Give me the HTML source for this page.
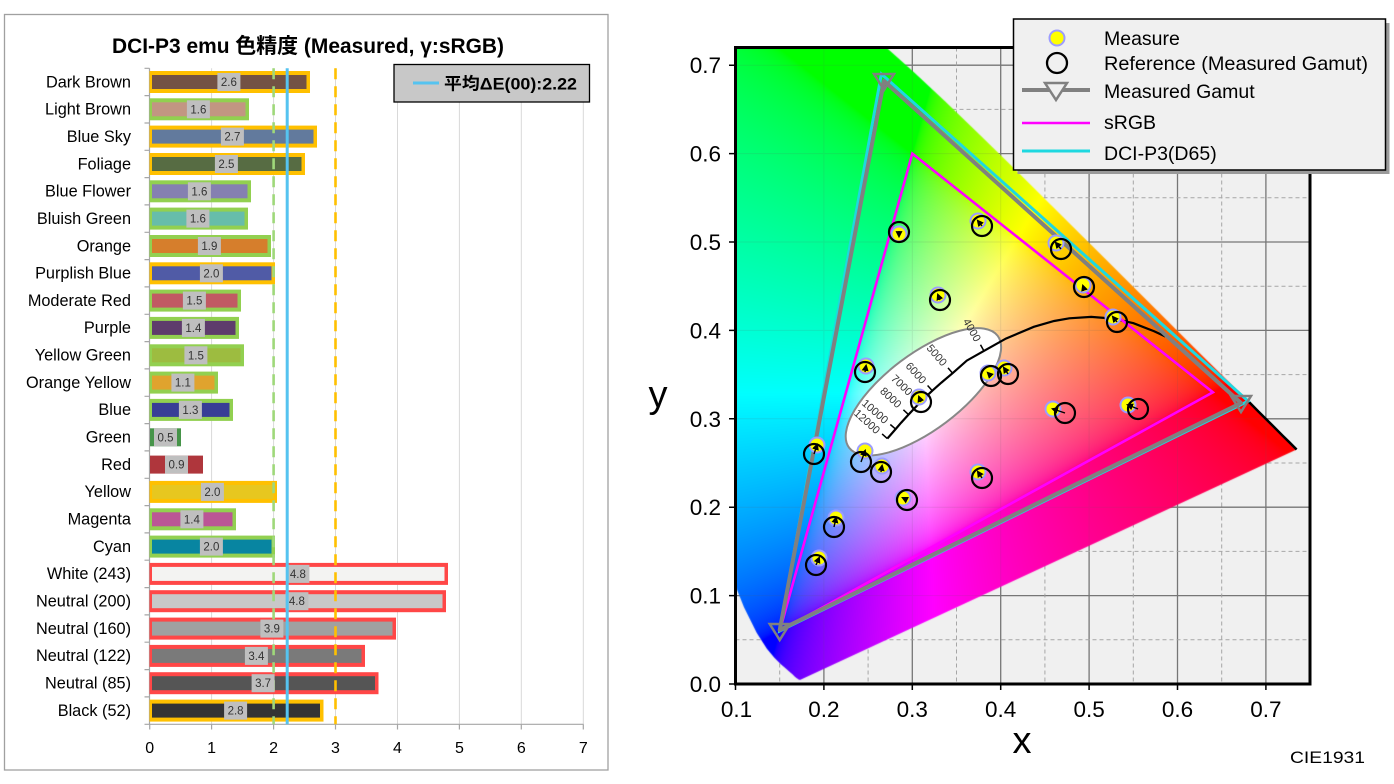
<!DOCTYPE html>
<html><head><meta charset="utf-8">
<style>
body{margin:0;width:1394px;height:784px;overflow:hidden;background:#fff;position:relative;font-family:"Liberation Sans","Noto Sans CJK JP",sans-serif}
svg{position:absolute;left:0;top:0}
#fb{position:absolute;left:736px;top:48px;width:574px;height:636px;overflow:hidden;
background:radial-gradient(circle at 187.5px 345.2px,rgba(255,255,255,1) 0px,rgba(255,255,255,.6) 40px,rgba(255,255,255,0) 150px),
conic-gradient(from 0deg at 187.5px 345.2px,#7cff00 0deg,#f0ff00 34deg,#ff9a00 67deg,#ff2000 91deg,#ff0050 125deg,#ff00c8 154deg,#8000ff 193deg,#2a00ff 210deg,#0060ff 235deg,#00fff0 275deg,#00ff80 310deg,#20ff20 336deg,#7cff00 360deg);
clip-path:polygon(64.9px 631.6px,60.3px 629.9px,49.4px 620.4px,38.4px 609.7px,20.8px 584.9px,8px 559.3px,-8.2px 518.7px,-48.8px 375.2px,-81.7px 160.1px,-76.7px -27.2px,-23.3px -101.1px,47.8px -76.4px,114px -30.8px,177.7px 24px,240.9px 83.9px,303.6px 145.6px,364.1px 205.8px,419.5px 261px,465.4px 306.7px,499.7px 340.7px,522.4px 363.5px,536.9px 377.9px,552.9px 393.8px,560.6px 401.5px)}
#cv{position:absolute;left:736px;top:48px}
</style></head><body>
<svg width="1394" height="784">
<rect x="735.5" y="47.5" width="574.5" height="636.5" fill="#f0f0f0"/>
<g stroke="#7a7a7a" stroke-width="1.3">
<line x1="823.9" y1="47.5" x2="823.9" y2="684"/><line x1="912.3" y1="47.5" x2="912.3" y2="684"/><line x1="1000.7" y1="47.5" x2="1000.7" y2="684"/><line x1="1089.1" y1="47.5" x2="1089.1" y2="684"/><line x1="1177.5" y1="47.5" x2="1177.5" y2="684"/><line x1="1265.9" y1="47.5" x2="1265.9" y2="684"/>
<line x1="735.5" y1="595.6" x2="1310" y2="595.6"/><line x1="735.5" y1="507.2" x2="1310" y2="507.2"/><line x1="735.5" y1="418.8" x2="1310" y2="418.8"/><line x1="735.5" y1="330.4" x2="1310" y2="330.4"/><line x1="735.5" y1="242" x2="1310" y2="242"/><line x1="735.5" y1="153.6" x2="1310" y2="153.6"/><line x1="735.5" y1="65.2" x2="1310" y2="65.2"/>
</g>
<g stroke="#a6a6a6" stroke-width="1" stroke-dasharray="4 3">
<line x1="779.7" y1="47.5" x2="779.7" y2="684"/><line x1="868.1" y1="47.5" x2="868.1" y2="684"/><line x1="956.5" y1="47.5" x2="956.5" y2="684"/><line x1="1044.9" y1="47.5" x2="1044.9" y2="684"/><line x1="1133.3" y1="47.5" x2="1133.3" y2="684"/><line x1="1221.7" y1="47.5" x2="1221.7" y2="684"/>
<line x1="735.5" y1="639.8" x2="1310" y2="639.8"/><line x1="735.5" y1="551.4" x2="1310" y2="551.4"/><line x1="735.5" y1="463" x2="1310" y2="463"/><line x1="735.5" y1="374.6" x2="1310" y2="374.6"/><line x1="735.5" y1="286.2" x2="1310" y2="286.2"/><line x1="735.5" y1="197.8" x2="1310" y2="197.8"/><line x1="735.5" y1="109.4" x2="1310" y2="109.4"/>
</g>
</svg>
<div id="fb"></div>
<canvas id="cv" width="574" height="636"></canvas>
<svg width="1394" height="784">
<defs>
<marker id="ah" markerUnits="userSpaceOnUse" markerWidth="7" markerHeight="7" viewBox="0 0 10 10" refX="7" refY="5" orient="auto"><path d="M0,0L10,5L0,10z" fill="#000"/></marker>
</defs>
<!-- faint grid over gamut -->
<g stroke="#606060" stroke-width="1" opacity="0.13">
<line x1="823.9" y1="47.5" x2="823.9" y2="684"/><line x1="912.3" y1="47.5" x2="912.3" y2="684"/><line x1="1000.7" y1="47.5" x2="1000.7" y2="684"/><line x1="1089.1" y1="47.5" x2="1089.1" y2="684"/><line x1="1177.5" y1="47.5" x2="1177.5" y2="684"/><line x1="1265.9" y1="47.5" x2="1265.9" y2="684"/>
<line x1="735.5" y1="595.6" x2="1310" y2="595.6"/><line x1="735.5" y1="507.2" x2="1310" y2="507.2"/><line x1="735.5" y1="418.8" x2="1310" y2="418.8"/><line x1="735.5" y1="330.4" x2="1310" y2="330.4"/><line x1="735.5" y1="242" x2="1310" y2="242"/><line x1="735.5" y1="153.6" x2="1310" y2="153.6"/><line x1="735.5" y1="65.2" x2="1310" y2="65.2"/>
</g>
<!-- ============ BAR CHART ============ -->
<rect x="4.5" y="14.5" width="603.5" height="755.5" fill="#fff" stroke="#a0a0a0" stroke-width="1.3"/>
<text x="112" y="53" font-size="21" font-weight="bold" textLength="392" lengthAdjust="spacingAndGlyphs" fill="#000">DCI-P3 emu 色精度 (Measured, γ:sRGB)</text>
<g stroke="#d9d9d9" stroke-width="1">
<line x1="211.6" y1="68.3" x2="211.6" y2="724.3"/><line x1="273.6" y1="68.3" x2="273.6" y2="724.3"/><line x1="335.5" y1="68.3" x2="335.5" y2="724.3"/><line x1="397.5" y1="68.3" x2="397.5" y2="724.3"/><line x1="459.4" y1="68.3" x2="459.4" y2="724.3"/><line x1="521.3" y1="68.3" x2="521.3" y2="724.3"/><line x1="583.3" y1="68.3" x2="583.3" y2="724.3"/>
</g>
<g stroke="#a6a6a6" stroke-width="1.2" fill="none">
<line x1="149.5" y1="724.3" x2="583.5" y2="724.3"/>
<line x1="149.5" y1="68.3" x2="149.5" y2="724.3"/>
<path d="M149.7 724.3V729.5M211.6 724.3V729.5M273.6 724.3V729.5M335.5 724.3V729.5M397.5 724.3V729.5M459.4 724.3V729.5M521.3 724.3V729.5M583.3 724.3V729.5"/>
<path d="M144.5 68.3H149.5M144.5 95.6H149.5M144.5 123H149.5M144.5 150.3H149.5M144.5 177.6H149.5M144.5 204.9H149.5M144.5 232.3H149.5M144.5 259.6H149.5M144.5 286.9H149.5M144.5 314.3H149.5M144.5 341.6H149.5M144.5 368.9H149.5M144.5 396.3H149.5M144.5 423.6H149.5M144.5 450.9H149.5M144.5 478.3H149.5M144.5 505.6H149.5M144.5 532.9H149.5M144.5 560.2H149.5M144.5 587.6H149.5M144.5 614.9H149.5M144.5 642.2H149.5M144.5 669.6H149.5M144.5 696.9H149.5M144.5 724.3H149.5"/>
</g>
<!-- bars -->
<g>
<rect x="149.5" y="71" width="160.5" height="22" fill="#ffc000"/><rect x="152" y="75" width="154.5" height="14" fill="#735244"/>
<rect x="149.5" y="98.3" width="99.5" height="22" fill="#92d050"/><rect x="152" y="102.3" width="93.5" height="14" fill="#c29682"/>
<rect x="149.5" y="125.6" width="167.5" height="22" fill="#ffc000"/><rect x="152" y="129.6" width="161.5" height="14" fill="#627a9d"/>
<rect x="149.5" y="153" width="155.5" height="22" fill="#ffc000"/><rect x="152" y="157" width="149.5" height="14" fill="#576c43"/>
<rect x="149.5" y="180.3" width="101.5" height="22" fill="#92d050"/><rect x="152" y="184.3" width="95.5" height="14" fill="#8580b1"/>
<rect x="149.5" y="207.6" width="98.5" height="22" fill="#92d050"/><rect x="152" y="211.6" width="92.5" height="14" fill="#67bdaa"/>
<rect x="149.5" y="235" width="121.5" height="22" fill="#92d050"/><rect x="152" y="239" width="115.5" height="14" fill="#d67e2c"/>
<rect x="149.5" y="262.3" width="125.5" height="22" fill="#ffc000"/><rect x="152" y="266.3" width="119.5" height="14" fill="#505ba6"/>
<rect x="149.5" y="289.6" width="91.5" height="22" fill="#92d050"/><rect x="152" y="293.6" width="85.5" height="14" fill="#c15a63"/>
<rect x="149.5" y="316.9" width="89.5" height="22" fill="#92d050"/><rect x="152" y="320.9" width="83.5" height="14" fill="#5e3c6c"/>
<rect x="149.5" y="344.3" width="94.5" height="22" fill="#92d050"/><rect x="152" y="348.3" width="88.5" height="14" fill="#9dbc40"/>
<rect x="149.5" y="371.6" width="68.5" height="22" fill="#92d050"/><rect x="152" y="375.6" width="62.5" height="14" fill="#e0a32e"/>
<rect x="149.5" y="398.9" width="83.5" height="22" fill="#92d050"/><rect x="152" y="402.9" width="77.5" height="14" fill="#383d96"/>
<rect x="150" y="428.3" width="31" height="18" fill="#469449"/>
<rect x="150" y="455.6" width="53" height="18" fill="#af363c"/>
<rect x="149.5" y="480.9" width="127.5" height="22" fill="#ffc000"/><rect x="152" y="484.9" width="121.5" height="14" fill="#e7c71f"/>
<rect x="149.5" y="508.3" width="86.5" height="22" fill="#92d050"/><rect x="152" y="512.3" width="80.5" height="14" fill="#bb5695"/>
<rect x="149.5" y="535.6" width="125.5" height="22" fill="#92d050"/><rect x="152" y="539.6" width="119.5" height="14" fill="#0885a1"/>
<rect x="149.5" y="562.9" width="298.5" height="22" fill="#ff4747"/><rect x="152" y="566.9" width="292.5" height="14" fill="#f3f3f2"/>
<rect x="149.5" y="590.2" width="296.5" height="22" fill="#ff4747"/><rect x="152" y="594.2" width="290.5" height="14" fill="#c8c8c8"/>
<rect x="149.5" y="617.6" width="246.5" height="22" fill="#ff4747"/><rect x="152" y="621.6" width="240.5" height="14" fill="#a0a0a0"/>
<rect x="149.5" y="644.9" width="215.5" height="22" fill="#ff4747"/><rect x="152" y="648.9" width="209.5" height="14" fill="#7a7a7a"/>
<rect x="149.5" y="672.2" width="229" height="22" fill="#ff4747"/><rect x="152" y="676.2" width="223" height="14" fill="#555555"/>
<rect x="149.5" y="699.6" width="174" height="22" fill="#ffc000"/><rect x="152" y="703.6" width="168" height="14" fill="#343434"/>
</g>
<!-- threshold lines -->
<line x1="273.6" y1="68.3" x2="273.6" y2="724.3" stroke="#9fd87a" stroke-width="2.6" stroke-dasharray="11 7"/>
<line x1="335.5" y1="68.3" x2="335.5" y2="724.3" stroke="#ffc000" stroke-width="2.6" stroke-dasharray="11 7"/>
<!-- value labels -->
<g fill="#bfbfbf">
<rect x="217.4" y="73" width="23" height="18"/><rect x="186.9" y="100.3" width="23" height="18"/><rect x="220.9" y="127.6" width="23" height="18"/><rect x="214.9" y="155" width="23" height="18"/><rect x="187.9" y="182.3" width="23" height="18"/><rect x="186.4" y="209.6" width="23" height="18"/><rect x="197.9" y="237" width="23" height="18"/><rect x="199.9" y="264.3" width="23" height="18"/><rect x="182.9" y="291.6" width="23" height="18"/><rect x="181.9" y="318.9" width="23" height="18"/><rect x="184.4" y="346.3" width="23" height="18"/><rect x="171.4" y="373.6" width="23" height="18"/><rect x="178.9" y="400.9" width="23" height="18"/><rect x="154" y="428.3" width="23" height="18"/><rect x="165" y="455.6" width="23" height="18"/><rect x="200.9" y="482.9" width="23" height="18"/><rect x="180.4" y="510.3" width="23" height="18"/><rect x="199.9" y="537.6" width="23" height="18"/><rect x="286.4" y="564.9" width="23" height="18"/><rect x="285.4" y="592.2" width="23" height="18"/><rect x="260.4" y="619.6" width="23" height="18"/><rect x="244.9" y="646.9" width="23" height="18"/><rect x="251.6" y="674.2" width="23" height="18"/><rect x="224.1" y="701.6" width="23" height="18"/>
</g>
<g font-size="11.5" fill="#333" text-anchor="middle">
<text x="228.9" y="86">2.6</text><text x="198.4" y="113.3">1.6</text><text x="232.4" y="140.6">2.7</text><text x="226.4" y="168">2.5</text><text x="199.4" y="195.3">1.6</text><text x="197.9" y="222.6">1.6</text><text x="209.4" y="250">1.9</text><text x="211.4" y="277.3">2.0</text><text x="194.4" y="304.6">1.5</text><text x="193.4" y="331.9">1.4</text><text x="195.9" y="359.3">1.5</text><text x="182.9" y="386.6">1.1</text><text x="190.4" y="413.9">1.3</text><text x="165.5" y="441.3">0.5</text><text x="176.5" y="468.6">0.9</text><text x="212.4" y="495.9">2.0</text><text x="191.9" y="523.3">1.4</text><text x="211.4" y="550.6">2.0</text><text x="297.9" y="577.9">4.8</text><text x="296.9" y="605.2">4.8</text><text x="271.9" y="632.6">3.9</text><text x="256.4" y="659.9">3.4</text><text x="263.1" y="687.2">3.7</text><text x="235.6" y="714.6">2.8</text>
</g>
<line x1="287.2" y1="68.3" x2="287.2" y2="724.3" stroke="#55c3f0" stroke-width="3"/>
<!-- category labels -->
<g font-size="16.3" fill="#000" text-anchor="end">
<text x="131" y="87.3">Dark Brown</text><text x="131" y="114.6">Light Brown</text><text x="131" y="141.9">Blue Sky</text><text x="131" y="169.3">Foliage</text><text x="131" y="196.6">Blue Flower</text><text x="131" y="223.9">Bluish Green</text><text x="131" y="251.3">Orange</text><text x="131" y="278.6">Purplish Blue</text><text x="131" y="305.9">Moderate Red</text><text x="131" y="333.2">Purple</text><text x="131" y="360.6">Yellow Green</text><text x="131" y="387.9">Orange Yellow</text><text x="131" y="415.2">Blue</text><text x="131" y="442.6">Green</text><text x="131" y="469.9">Red</text><text x="131" y="497.2">Yellow</text><text x="131" y="524.6">Magenta</text><text x="131" y="551.9">Cyan</text><text x="131" y="579.2">White (243)</text><text x="131" y="606.5">Neutral (200)</text><text x="131" y="633.9">Neutral (160)</text><text x="131" y="661.2">Neutral (122)</text><text x="131" y="688.5">Neutral (85)</text><text x="131" y="715.9">Black (52)</text>
</g>
<g font-size="16" fill="#000" text-anchor="middle">
<text x="149.7" y="753">0</text><text x="211.6" y="753">1</text><text x="273.6" y="753">2</text><text x="335.5" y="753">3</text><text x="397.5" y="753">4</text><text x="459.4" y="753">5</text><text x="521.3" y="753">6</text><text x="583.3" y="753">7</text>
</g>
<!-- bar legend -->
<rect x="394" y="64.5" width="195.5" height="37.5" fill="#c8c8c8" stroke="#000" stroke-width="1.3"/>
<line x1="413" y1="83" x2="439" y2="83" stroke="#55c3f0" stroke-width="3"/>
<text x="444" y="89.5" font-size="17" font-weight="bold" fill="#000" textLength="133" lengthAdjust="spacingAndGlyphs">平均ΔE(00):2.22</text>

<!-- ============ CIE ============ -->
<ellipse cx="923.4" cy="391.8" rx="93" ry="38" transform="rotate(-37 923.4 391.8)" fill="#fff" stroke="#888" stroke-width="2"/>
<polyline fill="none" stroke="#000" stroke-width="2.2" points="887.3,438.6 895.6,429.1 901.1,422.7 908.5,414.6 918.4,404.1 924.6,397.9 932.3,390.7 941.4,382.6 952.6,373.2 966.8,360.6 983.9,350.9 1005.9,338.6 1033.8,326.8 1054.1,321 1069.3,318.3 1091.2,316.9 1113.2,318.6 1133.5,323.2 1154.1,331.2 1165.4,336.5"/>
<g stroke="#000" stroke-width="1.5">
<line x1="887.3" y1="438.6" x2="882.1" y2="433.9"/><line x1="895.6" y1="429.1" x2="890.3" y2="424.5"/><line x1="908.5" y1="414.6" x2="903.4" y2="409.8"/><line x1="918.4" y1="404.1" x2="913.4" y2="399.2"/><line x1="932.3" y1="390.7" x2="927.6" y2="385.5"/><line x1="952.6" y1="373.2" x2="948" y2="367.9"/><line x1="983.9" y1="350.9" x2="980.5" y2="344.8"/>
</g>
<g font-size="11" fill="#333" text-anchor="middle">
<text x="972.1" y="330" dy="0.35em" transform="rotate(60 972.1 330)">4000</text>
<text x="936.9" y="355.1" dy="0.35em" transform="rotate(49 936.9 355.1)">5000</text>
<text x="916.1" y="372.9" dy="0.35em" transform="rotate(48 916.1 372.9)">6000</text>
<text x="901.9" y="385" dy="0.35em" transform="rotate(44 901.9 385)">7000</text>
<text x="890.9" y="397.5" dy="0.35em" transform="rotate(43 890.9 397.5)">8000</text>
<text x="875.2" y="411.4" dy="0.35em" transform="rotate(41 875.2 411.4)">10000</text>
<text x="867.2" y="421.5" dy="0.35em" transform="rotate(42 867.2 421.5)">12000</text>
</g>
<polyline fill="none" stroke="#000" stroke-width="2.5" points="1248.2,401.1 1258.4,411.5 1272.9,425.9 1282.7,435.7 1288.9,441.8 1296.6,449.5"/>
<!-- gamuts -->
<polygon points="1212.9,392.3 912.3,153.6 779.7,631" fill="none" stroke="#ff00ff" stroke-width="2.6"/>
<polygon points="1248.2,401.1 881.4,74 779.7,631" fill="none" stroke="#1ed8e0" stroke-width="3"/>
<polygon points="1241,403 884,81 779.7,630" fill="none" stroke="#808080" stroke-width="4" stroke-linejoin="round"/>
<g fill="none" stroke="#808080" stroke-width="2.5">
<polygon points="1231,396 1251,396 1241,412"/>
<polygon points="874,74 894,74 884,90"/>
<polygon points="769.7,624 789.7,624 779.7,640"/>
</g>
<!-- measured points -->
<g fill="#ffff00" stroke="#9c9cff" stroke-width="2">
<circle cx="899" cy="234" r="7.5"/><circle cx="978" cy="221" r="7.5"/><circle cx="1056" cy="243" r="7.5"/><circle cx="938" cy="295" r="7.5"/><circle cx="1083" cy="285" r="7.5"/><circle cx="1113" cy="317" r="7.5"/><circle cx="866" cy="366" r="7.5"/><circle cx="988" cy="373" r="7.5"/><circle cx="1004" cy="368" r="7.5"/><circle cx="919" cy="397" r="7.5"/><circle cx="1053" cy="409" r="7.5"/><circle cx="1128" cy="405" r="7.5"/><circle cx="817" cy="445" r="7.5"/><circle cx="865" cy="451" r="7.5"/><circle cx="882" cy="466" r="7.5"/><circle cx="978" cy="472" r="7.5"/><circle cx="903" cy="498" r="7.5"/><circle cx="836" cy="518" r="7.5"/><circle cx="819" cy="558" r="7.5"/>
</g>
<g fill="none" stroke="#000" stroke-width="2.2">
<circle cx="899" cy="232" r="10"/><circle cx="982" cy="226" r="10"/><circle cx="1061" cy="249" r="10"/><circle cx="940" cy="300" r="10"/><circle cx="1084" cy="287" r="10"/><circle cx="1117" cy="322" r="10"/><circle cx="865" cy="372" r="10"/><circle cx="991" cy="376" r="10"/><circle cx="1008" cy="374" r="10"/><circle cx="921" cy="402" r="10"/><circle cx="1065" cy="413" r="10"/><circle cx="1138" cy="409" r="10"/><circle cx="814" cy="454" r="10"/><circle cx="861" cy="462" r="10"/><circle cx="881" cy="472" r="10"/><circle cx="982" cy="478" r="10"/><circle cx="907" cy="500" r="10"/><circle cx="834" cy="527" r="10"/><circle cx="816" cy="565" r="10"/>
</g>
<g stroke="#000" stroke-width="1.4" marker-end="url(#ah)">
<line x1="899" y1="231" x2="899" y2="236"/><line x1="982" y1="226" x2="978" y2="221"/><line x1="1061" y1="249" x2="1056" y2="243"/><line x1="940" y1="300" x2="938" y2="295"/><line x1="1084" y1="289" x2="1083" y2="286"/><line x1="1117" y1="322" x2="1113" y2="317"/><line x1="865" y1="372" x2="866" y2="366"/><line x1="991" y1="376" x2="988" y2="373"/><line x1="1008" y1="374" x2="1004" y2="368"/><line x1="921" y1="402" x2="919" y2="397"/><line x1="1065" y1="413" x2="1053" y2="409"/><line x1="1138" y1="409" x2="1128" y2="405"/><line x1="814" y1="454" x2="817" y2="445"/><line x1="861" y1="462" x2="865" y2="451"/><line x1="881" y1="472" x2="882" y2="466"/><line x1="982" y1="478" x2="978" y2="472"/><line x1="907" y1="500" x2="903" y2="498"/><line x1="834" y1="527" x2="836" y2="518"/><line x1="816" y1="565" x2="819" y2="558"/>
</g>
<!-- plot border and ticks -->
<rect x="735.5" y="47.5" width="574.5" height="636.5" fill="none" stroke="#000" stroke-width="3"/>
<path d="M729 684H735.5M729 595.6H735.5M729 507.2H735.5M729 418.8H735.5M729 330.4H735.5M729 242H735.5M729 153.6H735.5M729 65.2H735.5M735.5 684V690M823.9 684V690M912.3 684V690M1000.7 684V690M1089.1 684V690M1177.5 684V690M1265.9 684V690" stroke="#000" stroke-width="1.5"/>
<g font-size="22.5" fill="#000" text-anchor="end">
<text x="721" y="692">0.0</text><text x="721" y="603.6">0.1</text><text x="721" y="515.2">0.2</text><text x="721" y="426.8">0.3</text><text x="721" y="338.4">0.4</text><text x="721" y="250">0.5</text><text x="721" y="161.6">0.6</text><text x="721" y="73.2">0.7</text>
</g>
<g font-size="22.5" fill="#000" text-anchor="middle">
<text x="736.5" y="717">0.1</text><text x="823.9" y="717">0.2</text><text x="912.3" y="717">0.3</text><text x="1000.7" y="717">0.4</text><text x="1089.1" y="717">0.5</text><text x="1177.5" y="717">0.6</text><text x="1265.9" y="717">0.7</text>
</g>
<text x="1022" y="753" font-size="38" text-anchor="middle" fill="#000">x</text>
<text x="658" y="407" font-size="38" text-anchor="middle" fill="#000">y</text>
<text x="1290" y="763" font-size="17" fill="#000" textLength="75" lengthAdjust="spacingAndGlyphs">CIE1931</text>
<!-- CIE legend -->
<rect x="1017.5" y="23" width="372" height="151" fill="#9a9a9a"/>
<rect x="1013.5" y="19" width="372" height="151" fill="#f0f0f0" stroke="#000" stroke-width="1.5"/>
<circle cx="1057" cy="38" r="7.5" fill="#ffff00" stroke="#9c9cff" stroke-width="2"/>
<circle cx="1057" cy="63" r="10" fill="none" stroke="#000" stroke-width="2.3"/>
<line x1="1022" y1="90" x2="1090" y2="90" stroke="#808080" stroke-width="4"/>
<polygon points="1045,83 1067,83 1056,100" fill="#f0f0f0" stroke="#808080" stroke-width="2.5"/>
<line x1="1022" y1="123" x2="1090" y2="123" stroke="#ff00ff" stroke-width="2.6"/>
<line x1="1022" y1="151" x2="1090" y2="151" stroke="#1ed8e0" stroke-width="3"/>
<g font-size="19.5" fill="#000">
<text x="1104" y="45">Measure</text>
<text x="1104" y="70" textLength="264" lengthAdjust="spacingAndGlyphs">Reference (Measured Gamut)</text>
<text x="1104" y="98">Measured Gamut</text>
<text x="1104" y="129">sRGB</text>
<text x="1104" y="160">DCI-P3(D65)</text>
</g>
</svg>
<script>
(function(){
var L=[[0.1741,0.0050],[0.1740,0.0050],[0.1738,0.0049],[0.1736,0.0049],[0.1733,0.0048],[0.1730,0.0048],[0.1726,0.0048],[0.1721,0.0048],[0.1714,0.0051],[0.1703,0.0058],[0.1689,0.0069],[0.1669,0.0086],[0.1644,0.0109],[0.1611,0.0138],[0.1566,0.0177],[0.1510,0.0227],[0.1440,0.0297],[0.1355,0.0399],[0.1241,0.0578],[0.1096,0.0868],[0.0913,0.1327],[0.0687,0.2007],[0.0454,0.2950],[0.0235,0.4127],[0.0082,0.5384],[0.0039,0.6548],[0.0139,0.7502],[0.0389,0.8120],[0.0743,0.8338],[0.1142,0.8262],[0.1547,0.8059],[0.1929,0.7816],[0.2296,0.7543],[0.2658,0.7243],[0.3016,0.6923],[0.3373,0.6589],[0.3731,0.6245],[0.4087,0.5896],[0.4441,0.5547],[0.4788,0.5202],[0.5125,0.4866],[0.5448,0.4544],[0.5752,0.4242],[0.6029,0.3965],[0.6270,0.3725],[0.6482,0.3514],[0.6658,0.3340],[0.6801,0.3197],[0.6915,0.3083],[0.7006,0.2993],[0.7079,0.2920],[0.7140,0.2859],[0.7190,0.2809],[0.7230,0.2770],[0.7260,0.2740],[0.7300,0.2700],[0.7334,0.2666],[0.7347,0.2653]];
var W=574,H=636,OX=736,OY=48;
function px(x){return 735.5+(x-0.1)*884-OX;}
function py(y){return 684-y*884-OY;}
var cvs=document.getElementById('cv');if(!cvs.getContext)return;
var off=document.createElement('canvas');off.width=W;off.height=H;
var oc=off.getContext('2d');var im=oc.createImageData(W,H);var d=im.data;
function g(v){return v<=0.0031308?12.92*v:1.055*Math.pow(v,1/2.4)-0.055;}
for(var j=0;j<H;j++){var y=(684-(OY+j+0.5))/884;if(y<0.003)y=0.003;
 for(var i=0;i<W;i++){var x=0.1+(OX+i+0.5-735.5)/884;
  var X=x/y,Z=(1-x-y)/y;
  var r=3.2406*X-1.5372-0.4986*Z,gg=-0.9689*X+1.8758+0.0415*Z,b=0.0557*X-0.2040+1.0570*Z;
  r=r>0?r:0;gg=gg>0?gg:0;b=b>0?b:0;var m=Math.max(r,gg,b)||1;
  var k=(j*W+i)*4;d[k]=255*g(r/m);d[k+1]=255*g(gg/m);d[k+2]=255*g(b/m);d[k+3]=255;}}
oc.putImageData(im,0,0);
var c=cvs.getContext('2d');
c.beginPath();for(var n=0;n<L.length;n++){var p=L[n];if(n)c.lineTo(px(p[0]),py(p[1]));else c.moveTo(px(p[0]),py(p[1]));}
c.closePath();c.clip();c.drawImage(off,0,0);
document.getElementById('fb').style.display='none';
})();
</script>
</body></html>
